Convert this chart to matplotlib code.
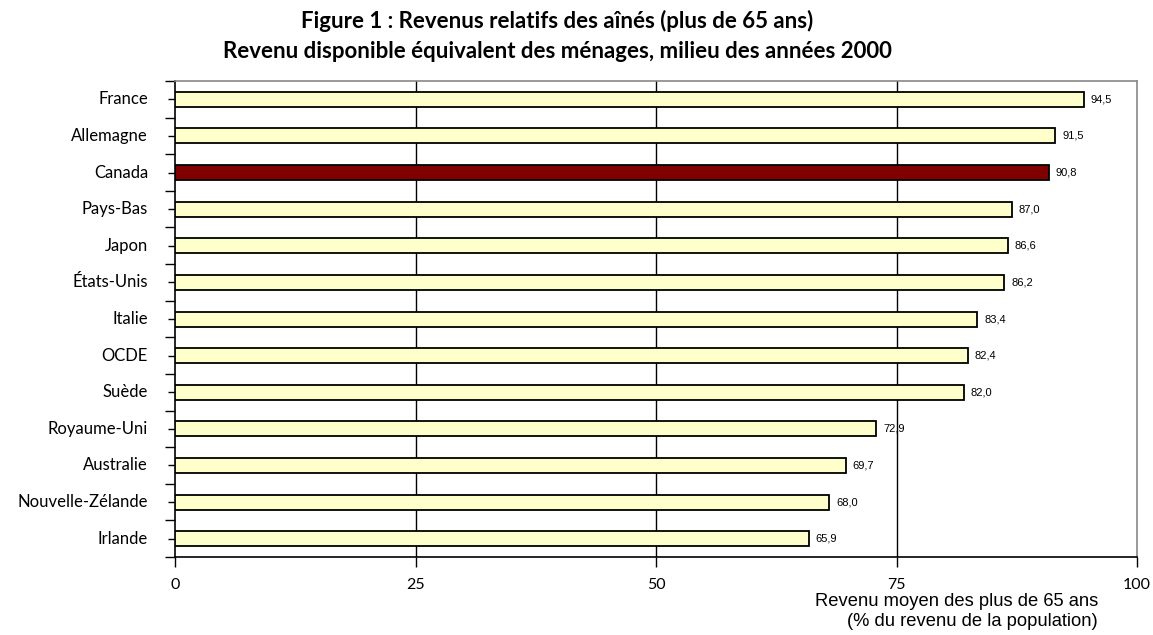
import numpy as np
import matplotlib
matplotlib.use("Agg")
import matplotlib.pyplot as plt
from matplotlib.ticker import FixedLocator

# données : revenu moyen des plus de 65 ans (% du revenu de la population)
pays = ["France", "Allemagne", "Canada", "Pays-Bas", "Japon", "États-Unis",
        "Italie", "OCDE", "Suède", "Royaume-Uni", "Australie",
        "Nouvelle-Zélande", "Irlande"]
valeurs = [94.5, 91.5, 90.8, 87.0, 86.6, 86.2, 83.4, 82.4, 82.0, 72.9,
           69.7, 68.0, 65.9]
mise_en_avant = "Canada"
graduations_x = [0, 25, 50, 75, 100]

W, H = 1153, 635
fig = plt.figure(figsize=(W / 100, H / 100), dpi=100)
ax = fig.add_axes([0.1518, 0.1228, 0.8344, 0.7496])

n = len(pays)
y = np.arange(n)
couleurs = ["#800000" if p == mise_en_avant else "#FFFFCC" for p in pays]
ax.barh(y, valeurs, height=0.41, color=couleurs, edgecolor="black",
        linewidth=1.3, zorder=3)

for yi, v in zip(y, valeurs):
    ax.text(v + 0.7, yi, f"{v:.1f}".replace(".", ","), va="center", ha="left",
            fontsize=8, family="Liberation Sans", zorder=4)

ax.set_xlim(0, 100)
ax.set_ylim(n - 0.5, -0.5)

# grille verticale noire
for gx in graduations_x[1:-1]:
    ax.axvline(gx, color="black", linewidth=1, zorder=1)

ax.set_xticks(graduations_x)
ax.set_xticklabels([str(g) for g in graduations_x], family="Lato", fontsize=11.5)
ax.tick_params(axis="x", direction="out", length=7, width=1, pad=8)

# graduations y aux limites des catégories, petites marques au centre
ax.yaxis.set_major_locator(FixedLocator(np.arange(-0.5, n, 1.0)))
ax.yaxis.set_minor_locator(FixedLocator(y))
ax.set_yticklabels([])
ax.tick_params(axis="y", which="major", direction="out", length=7, width=1)
ax.tick_params(axis="y", which="minor", direction="out", length=5, width=1)
for yi, p in zip(y, pays):
    ax.text(-2.8, yi, p, ha="right", va="center", fontsize=12, family="Lato")

for s in ["left", "bottom"]:
    ax.spines[s].set_color("black")
    ax.spines[s].set_linewidth(1.2)
for s in ["top", "right"]:
    ax.spines[s].set_color("#888888")
    ax.spines[s].set_linewidth(1.2)

# titre de l'axe x, sur deux lignes alignées à droite
fig.text(1098 / W, 1 - 602 / H, "Revenu moyen des plus de 65 ans",
         ha="right", va="center", fontsize=13.2, family="Liberation Sans")
fig.text(1098 / W, 1 - 622 / H, "(% du revenu de la population)",
         ha="right", va="center", fontsize=13.2, family="Liberation Sans")

fig.text(557 / W, 1 - 21 / H, "Figure 1 : Revenus relatifs des aînés (plus de 65 ans)",
         ha="center", va="center", fontsize=16, fontweight="bold", family="Lato")
fig.text(557 / W, 1 - 52 / H, "Revenu disponible équivalent des ménages, milieu des années 2000",
         ha="center", va="center", fontsize=16, fontweight="bold", family="Lato")

fig.savefig("out.png", dpi=100)
